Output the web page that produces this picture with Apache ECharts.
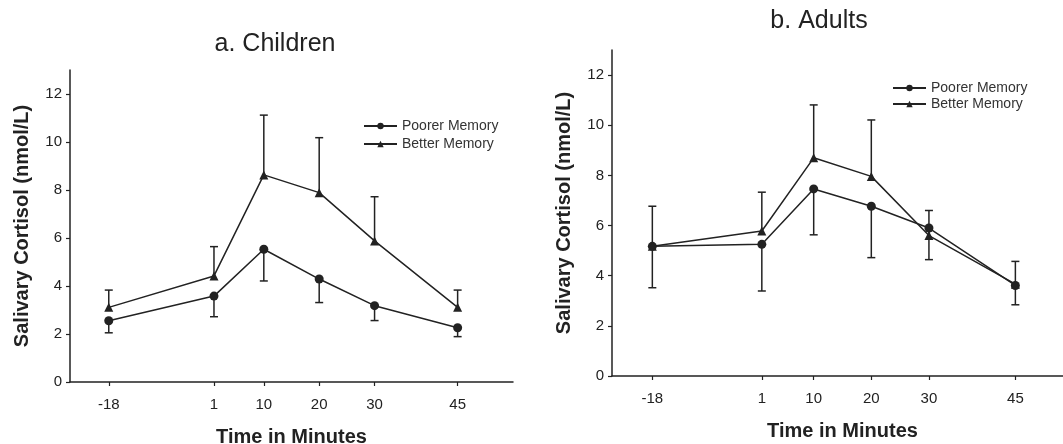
<!DOCTYPE html>
<html>
<head>
<meta charset="utf-8">
<script src="https://cdn.jsdelivr.net/npm/echarts@6/dist/echarts.min.js"></script>
<style>
  html, body { margin: 0; padding: 0; background: #fff; }
  #main { width: 1063px; height: 444px; }
</style>
</head>
<body>
<div id="main"></div>
<script>
// time points (minutes) and tick labels
var times = [-18, 1, 10, 20, 30, 45];
var yTicks = [0, 2, 4, 6, 8, 10, 12];

// a. Children
var childPoorer = [2.55, 3.58, 5.53, 4.29, 3.18, 2.26];
var childPoorerLow = [2.05, 2.72, 4.21, 3.31, 2.56, 1.89];
var childBetter = [3.11, 4.42, 8.63, 7.89, 5.88, 3.11];
var childBetterHigh = [3.83, 5.64, 11.12, 10.18, 7.72, 3.83];

// b. Adults
var adultPoorer = [5.17, 5.25, 7.46, 6.77, 5.90, 3.61];
var adultPoorerLow = [3.52, 3.39, 5.63, 4.72, 4.64, 2.84];
var adultBetter = [5.17, 5.78, 8.70, 7.96, 5.60, 3.66];
var adultBetterHigh = [6.77, 7.33, 10.81, 10.21, 6.60, 4.57];

var ink = '#222';
var font = 'Liberation Sans, Arial, sans-serif';

function pairs(ys) {
  return times.map(function (t, i) { return [t, ys[i]]; });
}
function bars(ys, ends) {
  return times.map(function (t, i) { return [t, ys[i], ends[i]]; });
}

function xAx(idx) {
  return {
    type: 'value', gridIndex: idx, min: -25, max: 55,
    name: 'Time in Minutes', nameLocation: 'middle', nameGap: 45,
    nameTextStyle: { fontFamily: font, fontSize: 20, fontWeight: 'bold', color: ink },
    axisLine: { onZero: false, lineStyle: { color: ink, width: 1.5 } },
    axisTick: { show: true, length: 4, customValues: times, lineStyle: { color: ink, width: 1.2 } },
    axisLabel: { customValues: times, fontFamily: font, fontSize: 15, color: ink, margin: 15 },
    splitLine: { show: false }
  };
}
function yAx(idx) {
  return {
    type: 'value', gridIndex: idx, min: 0, max: 13,
    name: 'Salivary Cortisol (nmol/L)', nameLocation: 'middle', nameGap: 38,
    nameTextStyle: { fontFamily: font, fontSize: 20, fontWeight: 'bold', color: ink },
    axisLine: { show: true, onZero: false, lineStyle: { color: ink, width: 1.5 } },
    axisTick: { show: true, length: 4, customValues: yTicks, lineStyle: { color: ink, width: 1.2 } },
    axisLabel: { customValues: yTicks, fontFamily: font, fontSize: 15, color: ink, margin: 8 },
    splitLine: { show: false }
  };
}

function lineSeries(name, idx, ys, symbol, size) {
  return {
    name: name, type: 'line', xAxisIndex: idx, yAxisIndex: idx,
    data: pairs(ys), symbol: symbol, symbolSize: size,
    lineStyle: { color: ink, width: 1.5 },
    itemStyle: { color: ink },
    z: 3
  };
}

function errorSeries(name, idx, ys, ends) {
  return {
    name: name, type: 'custom', xAxisIndex: idx, yAxisIndex: idx,
    data: bars(ys, ends),
    encode: { x: 0, y: [1, 2] },
    clip: false,
    itemStyle: { color: ink },
    renderItem: function (params, api) {
      var p = api.coord([api.value(0), api.value(1)]);
      var e = api.coord([api.value(0), api.value(2)]);
      var hw = 4;
      var st = { stroke: ink, lineWidth: 1.5 };
      return {
        type: 'group',
        children: [
          { type: 'line', shape: { x1: p[0], y1: p[1], x2: e[0], y2: e[1] }, style: st },
          { type: 'line', shape: { x1: e[0] - hw, y1: e[1], x2: e[0] + hw, y2: e[1] }, style: st }
        ]
      };
    },
    z: 2
  };
}

var chart = echarts.init(document.getElementById('main'));
chart.setOption({
  backgroundColor: '#fff',
  animation: false,
  title: [
    { text: 'a. Children', left: 270, top: 27, textAlign: 'center',
      textStyle: { fontFamily: font, fontSize: 25, fontWeight: 'normal', color: ink } },
    { text: 'b. Adults', left: 814, top: 4, textAlign: 'center',
      textStyle: { fontFamily: font, fontSize: 25, fontWeight: 'normal', color: ink } }
  ],
  legend: [
    { data: ['Poorer Memory', 'Better Memory'], orient: 'vertical', left: 358, top: 114,
      itemWidth: 33, itemHeight: 8, itemGap: 4, selectedMode: false,
      textStyle: { fontFamily: font, fontSize: 14, color: '#333' } },
    { data: ['Poorer Memory', 'Better Memory'], orient: 'vertical', left: 887, top: 76,
      itemWidth: 33, itemHeight: 8, itemGap: 2, selectedMode: false,
      textStyle: { fontFamily: font, fontSize: 14, color: '#333' } }
  ],
  grid: [
    { left: 70, top: 70, width: 443, height: 312, outerBoundsMode: 'none' },
    { left: 612, top: 50, width: 461, height: 326, outerBoundsMode: 'none' }
  ],
  xAxis: [xAx(0), xAx(1)],
  yAxis: [yAx(0), yAx(1)],
  series: [
    lineSeries('Poorer Memory', 0, childPoorer, 'circle', 9),
    lineSeries('Better Memory', 0, childBetter, 'triangle', 9),
    lineSeries('Poorer Memory', 1, adultPoorer, 'circle', 9),
    lineSeries('Better Memory', 1, adultBetter, 'triangle', 9),
    errorSeries('Poorer Memory', 0, childPoorer, childPoorerLow),
    errorSeries('Better Memory', 0, childBetter, childBetterHigh),
    errorSeries('Poorer Memory', 1, adultPoorer, adultPoorerLow),
    errorSeries('Better Memory', 1, adultBetter, adultBetterHigh)
  ]
});
</script>
</body>
</html>
